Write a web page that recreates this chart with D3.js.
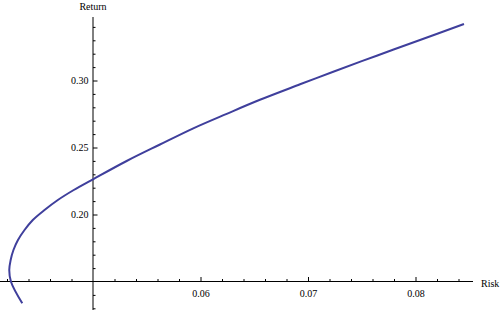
<!DOCTYPE html>
<html lang="en">
<head>
    <meta charset="UTF-8">
    <title>Risk vs Return</title>
    <script src="https://d3js.org/d3.v7.min.js"></script>
    <style>
        body {
            margin: 0;
            background: white;
        }
        .tick text, .axis-label {
            font-family: "Liberation Serif", "Times New Roman", serif;
            font-size: 10px;
            fill: #000;
        }
    </style>
</head>
<body>

<svg width="500" height="310"></svg>

<script>
    // frontier points (risk, return)
    const risk = [0.04342, 0.04237, 0.04221, 0.04234, 0.04260, 0.04302, 0.04363, 0.04440,
                  0.04549, 0.04673, 0.04821, 0.05000, 0.05313, 0.05623, 0.05933, 0.06244,
                  0.06553, 0.06926, 0.07235, 0.07639, 0.08042, 0.08451];
    const ret  = [0.13373, 0.14985, 0.15858, 0.16604, 0.17351, 0.18097, 0.18843, 0.19590,
                  0.20336, 0.21082, 0.21828, 0.22627, 0.23993, 0.25224, 0.26433, 0.27515,
                  0.28560, 0.29716, 0.30657, 0.31851, 0.33022, 0.34216];

    const xMajor = [0.06, 0.07, 0.08];
    const xMinor = [0.042, 0.044, 0.046, 0.048, 0.052, 0.054, 0.056, 0.058, 0.062, 0.064,
                    0.066, 0.068, 0.072, 0.074, 0.076, 0.078, 0.082, 0.084];
    const yMajor = [0.20, 0.25, 0.30];
    const yMinor = [0.13, 0.14, 0.16, 0.17, 0.18, 0.19, 0.21, 0.22, 0.23, 0.24,
                    0.26, 0.27, 0.28, 0.29, 0.31, 0.32, 0.33, 0.34];

    const svg = d3.select("svg");

    const x = d3.scaleLinear().domain([0.05, 0.08]).range([93, 415.5]);
    const y = d3.scaleLinear().domain([0.15, 0.30]).range([281.5, 80.5]);

    const x0 = x(0.05), y0 = y(0.15);

    // axis lines
    svg.append("line")
        .attr("x1", 0).attr("x2", 473)
        .attr("y1", y0).attr("y2", y0)
        .attr("stroke", "#000").attr("stroke-width", 1);
    svg.append("line")
        .attr("x1", x0).attr("x2", x0)
        .attr("y1", 17).attr("y2", 310)
        .attr("stroke", "#000").attr("stroke-width", 1);

    // x ticks (pointing up)
    svg.append("g")
        .attr("transform", `translate(0,${y0})`)
        .call(d3.axisBottom(x).tickValues(xMinor).tickSize(-2.5).tickFormat(""))
        .call(g => g.select(".domain").remove());
    svg.append("g")
        .attr("transform", `translate(0,${y0})`)
        .call(d3.axisBottom(x).tickValues(xMajor).tickSize(-4.5).tickPadding(8.5)
            .tickFormat(d3.format(".2f")))
        .call(g => g.select(".domain").remove());

    // y ticks (pointing right)
    svg.append("g")
        .attr("transform", `translate(${x0},0)`)
        .call(d3.axisLeft(y).tickValues(yMinor).tickSize(-2.5).tickFormat(""))
        .call(g => g.select(".domain").remove());
    svg.append("g")
        .attr("transform", `translate(${x0},0)`)
        .call(d3.axisLeft(y).tickValues(yMajor).tickSize(-4.5).tickPadding(4.5)
            .tickFormat(d3.format(".2f")))
        .call(g => g.select(".domain").remove());

    svg.selectAll("g").attr("font-family", null).attr("font-size", null);
    svg.selectAll(".tick line").attr("stroke", "#000");

    // curve
    const pts = risk.map((r, i) => [r, ret[i]]);
    const line = d3.line()
        .x(d => x(d[0]))
        .y(d => y(d[1]))
        .curve(d3.curveCatmullRom.alpha(0.5));

    svg.append("path")
        .datum(pts)
        .attr("fill", "none")
        .attr("stroke", "#3f3f9c")
        .attr("stroke-width", 2)
        .attr("d", line);

    // labels
    svg.append("text")
        .attr("class", "axis-label")
        .attr("x", x0)
        .attr("y", 10)
        .attr("text-anchor", "middle")
        .text("Return");

    svg.append("text")
        .attr("class", "axis-label")
        .attr("x", 481)
        .attr("y", 287)
        .text("Risk");
</script>

</body>
</html>
